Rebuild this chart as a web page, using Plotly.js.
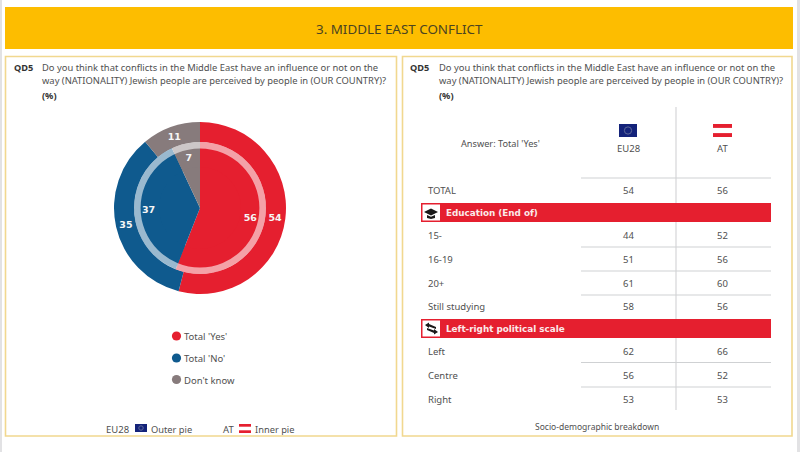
<!DOCTYPE html>
<html><head><meta charset="utf-8">
<script src="https://cdn.plot.ly/plotly-3.0.1.min.js"></script>
<style>html,body{margin:0;padding:0;background:#fff;overflow:hidden}#c{width:800px;height:452px}</style>
</head><body><div id="c"></div>
<script>
const W = 800, H = 452;
const answers = ["Total 'Yes'", "Total 'No'", "Don't know"];
const eu28Values = [54, 35, 11];
const atValues = [56, 37, 7];
const sliceColors = ['#e51f2f', '#0f5a8e', '#877b7c'];
const rowLabels = ['TOTAL', '15-', '16-19', '20+', 'Still studying', 'Left', 'Centre', 'Right'];
const rowEU28 = [54, 44, 51, 61, 58, 62, 56, 53];
const rowAT = [56, 52, 56, 60, 56, 66, 52, 53];
const questionLine1 = 'Do you think that conflicts in the Middle East have an influence or not on the';
const questionLine2 = 'way (NATIONALITY) Jewish people are perceived by people in (OUR COUNTRY)?';

const FONT = 'Noto Sans, DejaVu Sans, sans-serif';
const TXT = '#505050';
const px = x => x / W, py = y => 1 - y / H;

function disc(r, cx = 200, cy = 208) {
  return { x: [px(cx - r), px(cx + r)], y: [py(cy + r), py(cy - r)] };
}
function pie(values, r, hole, colors, showText) {
  return {
    type: 'pie', values, labels: answers, sort: false, direction: 'clockwise', rotation: 0,
    domain: disc(r), hole, marker: { colors, line: { width: 0 } },
    textinfo: showText ? 'value' : 'none', textposition: 'inside', insidetextorientation: 'horizontal',
    insidetextfont: { family: 'DejaVu Sans, sans-serif', size: 9.5, color: '#f6f6f6', weight: 700 },
    hoverinfo: 'skip', showlegend: false
  };
}
const data = [
  pie(eu28Values, 86, 0.765, sliceColors, true),
  pie(atValues, 66, 0, sliceColors, false),
  pie(atValues, 62, 0.66, sliceColors, true),
  { type: 'pie', values: [1], labels: ['ring'], domain: disc(66), hole: 0.9, sort: false,
    marker: { colors: ['rgba(255,255,255,0.58)'], line: { width: 0 } }, textinfo: 'none', hoverinfo: 'skip', showlegend: false }
];

const shapes = [], annotations = [];
function rect(x0, y0, x1, y1, fill, line, lw) {
  shapes.push({ type: 'rect', xref: 'paper', yref: 'paper', x0: px(x0), x1: px(x1), y0: py(y0), y1: py(y1),
    fillcolor: fill, line: { color: line || fill, width: lw || 0 }, layer: 'below' });
}
function hline(x0, x1, y, color, w) {
  shapes.push({ type: 'line', xref: 'paper', yref: 'paper', x0: px(x0), x1: px(x1), y0: py(y), y1: py(y), line: { color, width: w || 1 }, layer: 'below' });
}
function vline(x, y0, y1, color, w) {
  shapes.push({ type: 'line', xref: 'paper', yref: 'paper', x0: px(x), x1: px(x), y0: py(y0), y1: py(y1), line: { color, width: w || 1 }, layer: 'below' });
}
function dot(cx, cy, r, fill) {
  shapes.push({ type: 'circle', xref: 'paper', yref: 'paper', x0: px(cx - r), x1: px(cx + r), y0: py(cy + r), y1: py(cy - r), fillcolor: fill, line: { width: 0 } });
}
function poly(pts, fill) {
  const path = pts.map((p, i) => (i ? 'L' : 'M') + px(p[0]) + ',' + py(p[1])).join(' ') + ' Z';
  shapes.push({ type: 'path', xref: 'paper', yref: 'paper', path, fillcolor: fill, line: { width: 0 } });
}
function text(s, x, y, opt = {}) {
  annotations.push({ xref: 'paper', yref: 'paper', x: px(x), y: py(y), text: s, showarrow: false,
    xanchor: opt.anchor || 'left', yanchor: 'middle', borderpad: 0, borderwidth: 0,
    font: { family: opt.family || FONT, size: opt.size || 9, color: opt.color || TXT, weight: opt.weight || 400 } });
}
function euFlag(x, y, w, h) {
  shapes.push({ type: 'rect', xref: 'paper', yref: 'paper', x0: px(x), x1: px(x + w), y0: py(y + h), y1: py(y), fillcolor: '#14237a', line: { width: 0 } });
  shapes.push({ type: 'circle', xref: 'paper', yref: 'paper', x0: px(x + w / 2 - h * 0.28), x1: px(x + w / 2 + h * 0.28), y0: py(y + h * 0.78), y1: py(y + h * 0.22), fillcolor: 'rgba(0,0,0,0)', line: { color: '#5f6a9a', width: 1 } });
}
function atFlag(x, y, w, h) {
  const s = h * 0.3;
  shapes.push({ type: 'rect', xref: 'paper', yref: 'paper', x0: px(x), x1: px(x + w), y0: py(y + s), y1: py(y), fillcolor: '#e51f2f', line: { width: 0 } });
  shapes.push({ type: 'rect', xref: 'paper', yref: 'paper', x0: px(x), x1: px(x + w), y0: py(y + h), y1: py(y + h - s), fillcolor: '#e51f2f', line: { width: 0 } });
}

// page edges, banner, panels
rect(0, 0, 2, H, '#e2e2e4');
rect(797, 0, 800, H, '#e2e2e4');
rect(5, 7, 793, 49, '#fdbd00');
rect(5.5, 56.5, 396.5, 436, '#ffffff', '#f1d88f', 1.6);
rect(402.5, 56.5, 792, 436, '#ffffff', '#f1d88f', 1.6);
text('3. MIDDLE EAST CONFLICT', 399.5, 28.5, { anchor: 'center', size: 13.4, color: '#4b4420' });

// question headers
[[14, 42], [410, 439]].forEach(([a, b]) => {
  text('QD5', a, 67.5, { weight: 700, size: 9.2, color: '#333' });
  text(questionLine1, b, 67.5, { size: 9.4 });
  text(questionLine2, b, 80.5, { size: 9.4 });
  text('(%)', b, 95, { weight: 700, size: 9.2, color: '#333' });
});

// pie legend
const legendY = [336, 358, 379.5];
answers.forEach((a, i) => {
  dot(176.5, legendY[i], 4.6, sliceColors[i]);
  text(a, 184, legendY[i] + 0.5, { size: 9.5 });
});
text('EU28', 106, 429, { size: 9.5 });
euFlag(135, 424, 12, 8);
text('Outer pie', 151, 429, { size: 9.3 });
text('AT', 223, 429, { size: 9.5 });
atFlag(239, 424, 12, 9);
text('Inner pie', 255, 429, { size: 9.3 });

// table
const rowY = [191, 235, 259, 283, 306, 351, 375, 399];
const colEU = 628, colAT = 722;
vline(676, 107, 410, '#d6d6d8', 1.2);
[178, 247, 271, 295, 362.5, 387].forEach(y => hline(581, 771, y, '#cfd1d3', 1.2));
text("Answer: Total 'Yes'", 500, 143, { anchor: 'center', size: 9.2 });
euFlag(619, 124, 18, 13);
atFlag(713, 124, 19, 13);
text('EU28', colEU, 148.5, { anchor: 'center', size: 9.5 });
text('AT', colAT, 148.5, { anchor: 'center', size: 9.5 });
rowLabels.forEach((l, i) => {
  text(l, 428, rowY[i], { size: 9.5 });
  text(String(rowEU28[i]), colEU, rowY[i], { anchor: 'center', size: 9.5 });
  text(String(rowAT[i]), colAT, rowY[i], { anchor: 'center', size: 9.5 });
});
[[203, 'Education (End of)'], [319, 'Left-right political scale']].forEach(([y, t]) => {
  rect(421, y, 771, y + 19, '#e51f2f');
  rect(422.5, y + 1.5, 440, y + 17.5, '#ffffff');
  text(t, 446, y + 9.5, { size: 8.8, weight: 700, color: '#fbe9ea', family: 'DejaVu Sans, sans-serif' });
});
// cap icon
poly([[424, 212], [431, 208.5], [438, 212], [431, 215.5]], '#1a1a1a');
poly([[427, 215], [431, 216.8], [435, 215], [435, 218], [431, 219], [427, 218]], '#1a1a1a');
// swap-arrow icon
poly([[425, 325], [429, 322.5], [429, 324], [436, 327], [436, 329], [429, 326.5], [429, 328]], '#1a1a1a');
poly([[438, 332], [434, 334.5], [434, 333], [427, 330], [427, 328], [434, 330.5], [434, 329]], '#1a1a1a');
text('Socio-demographic breakdown', 597, 426.5, { anchor: 'center', size: 8.5 });

Plotly.newPlot('c', data, {
  width: W, height: H, margin: { l: 0, r: 0, t: 0, b: 0 },
  paper_bgcolor: '#fff', showlegend: false, shapes, annotations
}, { displayModeBar: false, staticPlot: true });
</script></body></html>
